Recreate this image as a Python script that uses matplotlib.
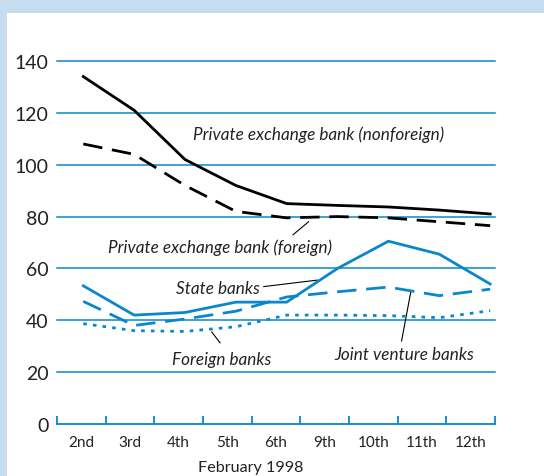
import numpy as np
import matplotlib

matplotlib.use("Agg")
import matplotlib.pyplot as plt
from matplotlib.patches import Rectangle

# Data (February 1998)
days = ["2nd", "3rd", "4th", "5th", "6th", "9th", "10th", "11th", "12th"]
nonforeign = [134, 121, 102, 92, 85, 84.3, 83.7, 82.5, 81]
foreign = [108, 104, 92, 82, 79.5, 80, 79.5, 78, 76.5]
state = [53.3, 42, 43, 47, 47, 60, 70.5, 65.5, 54]
joint_venture = [47.3, 38, 40.5, 43.5, 49, 51, 52.8, 49.5, 52]
foreign_banks = [38.7, 36, 35.7, 37.5, 42, 42, 41.8, 41, 43.7]

BLUE = "#0a87cb"
BG = "#c6dcef"

plt.rcParams["font.family"] = ["Lato", "DejaVu Sans"]

fig = plt.figure(figsize=(5.44, 4.77), dpi=100, facecolor=BG)
# white panel inside the blue frame
fig.patches.append(Rectangle((7 / 544, 0), 1, (477 - 14) / 477, transform=fig.transFigure,
                             facecolor="white", edgecolor="none", zorder=-5))

ax = fig.add_axes([57 / 544, (477 - 425) / 477, (495 - 57) / 544, (425 - 62) / 477])
ax.set_facecolor("none")
ax.set_zorder(2)

# points sit a little wider than the category centres in the original
x = np.linspace(0.54, 8.9, len(days))

ax.plot(x, nonforeign, color="black", lw=2.0, clip_on=False, zorder=3)
ax.plot(x, foreign, color="black", lw=2.0, dashes=(7, 3.5), clip_on=False, zorder=3)
ax.plot(x, state, color=BLUE, lw=2.0, clip_on=False, zorder=3)
ax.plot(x, joint_venture, color=BLUE, lw=2.0, dashes=(7, 3.5), clip_on=False, zorder=3)
ax.plot(x, foreign_banks, color=BLUE, lw=2.0, dashes=(1.3, 2.2), clip_on=False, zorder=3)

ax.set_xlim(0, len(days))
ax.set_ylim(0, 140)

for s in ["top", "right", "left"]:
    ax.spines[s].set_visible(False)
ax.spines["bottom"].set_color(BLUE)
ax.spines["bottom"].set_linewidth(1.3)

ax.set_yticks(range(0, 141, 20))
ax.tick_params(axis="y", length=0, pad=6, labelsize=14, labelcolor="#222222")
for v in range(20, 141, 20):
    ax.axhline(v, color=BLUE, lw=1.1, zorder=1, clip_on=False)

ax.set_xticks(range(0, len(days) + 1))
ax.set_xticklabels([])
ax.set_xticks(np.arange(len(days)) + 0.5, minor=True)
ax.set_xticklabels(days, minor=True)
ax.tick_params(axis="x", which="major", direction="in", length=6, width=1.3, color=BLUE)
ax.tick_params(axis="x", which="minor", length=0, pad=8, labelsize=11, labelcolor="#222222")

fig.text(251 / 544, 1 - 468 / 477, "February 1998", ha="center", va="center",
         fontsize=11.6, color="#222222")

# series labels with leader lines
lab = dict(fontsize=12.3, style="italic", color="#222222", va="center")
ax.text(2.8, 112, "Private exchange bank (nonforeign)", **lab)
ax.text(1.05, 68.5, "Private exchange bank (foreign)", **lab)
ax.plot([4.85, 5.17], [73, 78], color="black", lw=0.8)
ax.text(2.44, 52.5, "State banks", **lab)
ax.plot([4.25, 5.35], [53, 55.5], color="black", lw=0.8)
ax.text(2.37, 25, "Foreign banks", **lab)
ax.plot([3.35, 3.18], [31.3, 35.5], color="black", lw=0.8)
ax.text(5.7, 27, "Joint venture banks", **lab)
ax.plot([7.08, 7.27], [32, 51], color="black", lw=0.8)

fig.savefig("out.png", dpi=100, facecolor=BG)
